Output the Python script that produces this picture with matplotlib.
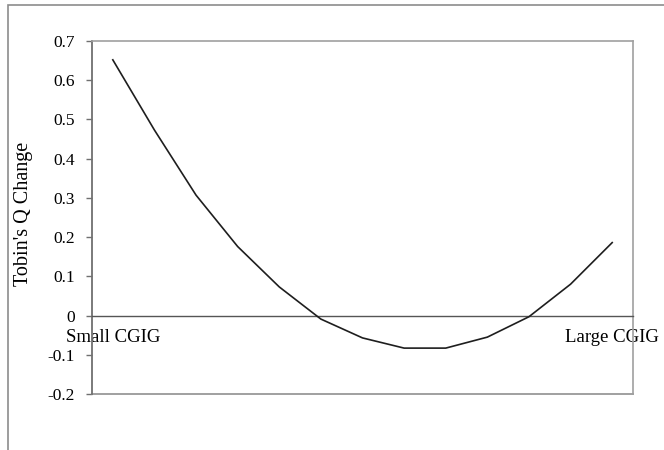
import matplotlib.pyplot as plt
from matplotlib.patches import Rectangle

# Tobin's Q change across CGIG levels
points = list(range(13))
q_change = [0.652, 0.473, 0.307, 0.176, 0.073, -0.009, -0.057,
            -0.083, -0.083, -0.055, -0.003, 0.080, 0.186]
cat_ticks = [0, 12]
cat_labels = ["Small CGIG", "Large CGIG"]
y_ticks = [-0.2, -0.1, 0, 0.1, 0.2, 0.3, 0.4, 0.5, 0.6, 0.7]
y_labels = ["-0.2", "-0.1", "0", "0.1", "0.2", "0.3", "0.4", "0.5", "0.6", "0.7"]

plt.rcParams["font.family"] = ["Liberation Serif", "DejaVu Serif"]

fig = plt.figure(figsize=(6.64, 4.5), dpi=100)
ax = fig.add_axes([92 / 664, 1 - 394 / 450, 541 / 664, 353 / 450])

# chart area border (cut off at right and bottom of the image)
fig.add_artist(Rectangle((8 / 664, -0.2), 1.2, 1.2 - 5 / 450,
                         transform=fig.transFigure, fill=False,
                         edgecolor="#8c8c8c", linewidth=1.2))

ax.plot(points, q_change, color="#1e1e1e", linewidth=1.2, zorder=3)

ax.set_xlim(-0.5, 12.5)
ax.set_ylim(-0.2, 0.7)

ax.set_yticks(y_ticks)
ax.set_yticklabels(y_labels)
ax.tick_params(axis="y", direction="out", length=4.5, width=1, color="#707070",
               labelsize=12.5, pad=8)

# category axis sits on zero
ax.set_xticks(cat_ticks)
ax.set_xticklabels(cat_labels)
ax.tick_params(axis="x", length=0, labelsize=13.5, pad=10)
ax.spines["bottom"].set_position(("data", 0))
ax.spines["bottom"].set_color("#555555")
ax.spines["bottom"].set_linewidth(1)

ax.spines["left"].set_color("#707070")
ax.spines["left"].set_linewidth(1.3)
for s in ["top", "right"]:
    ax.spines[s].set_color("#a0a0a0")
    ax.spines[s].set_linewidth(1.2)
ax.axhline(-0.2, color="#a0a0a0", linewidth=1.4, clip_on=False)

ax.set_ylabel("Tobin's Q Change", fontsize=14.5)
ax.yaxis.set_label_coords(-0.109, 0.51)

fig.savefig("out.png", dpi=100)
